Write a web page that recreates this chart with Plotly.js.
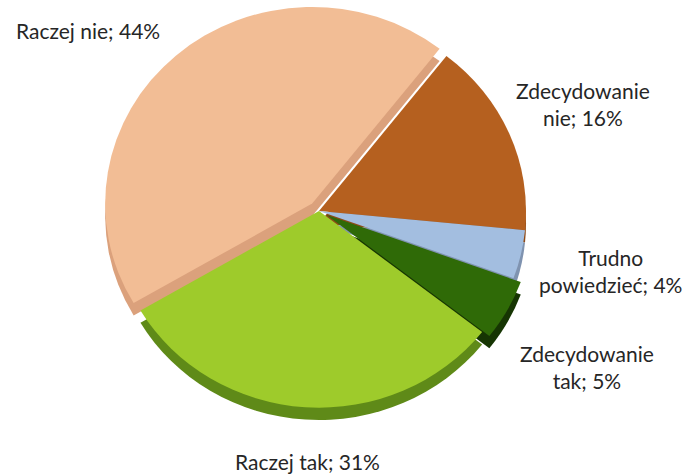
<!DOCTYPE html>
<html>
<head>
<meta charset="utf-8">
<script src="https://cdn.plot.ly/plotly-3.0.1.min.js"></script>
<style>
html,body{margin:0;padding:0;background:#fff;}
#chart{width:684px;height:474px;}
</style>
</head>
<body>
<div id="chart"></div>
<script>
// Data (order as drawn clockwise from ~38° past 12 o'clock)
const categories = ["Zdecydowanie nie", "Trudno powiedzieć", "Zdecydowanie tak", "Raczej tak", "Raczej nie"];
const values = [16, 4, 5, 31, 44];
const labelTexts = ["Zdecydowanie<br>nie; 16%", "Trudno<br>powiedzieć; 4%", "Zdecydowanie<br>tak; 5%", "Raczej tak; 31%", "Raczej nie; 44%"];
const topColors = ["#B5601F", "#A3BEE0", "#2F6A07", "#9ECB2B", "#F2BD95"];
const sideColors = ["#8E4A17", "#7F93B0", "#163503", "#5F8A18", "#DBA17C"];
const pulls = [0, 0, 0.04, 0, 0.05];

const W = 684, H = 474;
const S = 0.95;           // vertical squash for tilt
const cxPx = 319;         // pie centre x
const rPx = 207;          // radius
const half = rPx * (1 + 0.05);
const dx0 = (cxPx - half) / W, dx1 = (cxPx + half) / W;
const topY0 = 0, topY1 = 2 * half + 1;
const sideShift = 13;

const common = {
  type: "pie",
  values: values,
  labels: categories,
  sort: false,
  direction: "clockwise",
  rotation: 38,
  pull: pulls,
  textinfo: "none",
  hoverinfo: "skip",
  showlegend: false
};

const sideTrace = Object.assign({}, common, {
  marker: {colors: sideColors, line: {width: 0}},
  domain: {x: [dx0, dx1], y: [1 - (topY1 + sideShift) / H, 1 - (topY0 + sideShift) / H]}
});
const topTrace = Object.assign({}, common, {
  marker: {colors: topColors, line: {width: 0}},
  domain: {x: [dx0, dx1], y: [1 - topY1 / H, 1 - topY0 / H]}
});

const labelFont = {family: "Lato, 'Open Sans', sans-serif", size: 21, color: "#262626"};
const labelPos = [
  [583, 104], [610, 271], [587, 367], [307, 461], [88, 31]
];
const annotations = labelTexts.map((t, i) => ({
  text: t, xref: "paper", yref: "paper",
  x: labelPos[i][0] / W, y: 1 - labelPos[i][1] / H,
  xanchor: "center", yanchor: "middle", showarrow: false,
  align: "center", font: labelFont
}));

const layout = {
  width: W, height: H,
  margin: {l: 0, r: 0, t: 0, b: 0},
  paper_bgcolor: "#ffffff",
  plot_bgcolor: "#ffffff",
  annotations: annotations
};

Plotly.newPlot("chart", [sideTrace, topTrace], layout, {displayModeBar: false, staticPlot: true}).then(() => {
  const cyPre = (topY0 + topY1) / 2;
  const cyFinal = 211;
  const T = cyFinal - S * cyPre;
  const pl = document.querySelector("#chart .pielayer");
  if (pl) pl.setAttribute("transform", "translate(0," + T + ") scale(1," + S + ")");
});
</script>
</body>
</html>
